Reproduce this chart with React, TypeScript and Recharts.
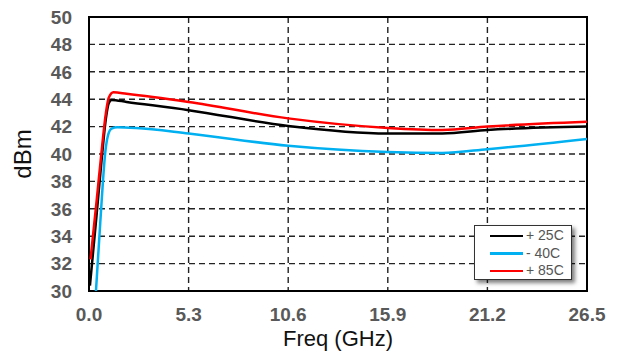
import { LineChart, Line, XAxis, YAxis, CartesianGrid, Legend, ReferenceArea } from "recharts";

// Power vs frequency
const freq25 = [0.05, 0.4, 0.7, 0.9, 1.05, 1.2, 2.0, 5.3, 10.6, 15.9, 18.8, 21.2, 26.5];
const dbm25 = [30.4, 35.5, 40.0, 42.6, 43.7, 43.95, 43.8, 43.2, 42.05, 41.5, 41.5, 41.75, 42.0];

const freqCold = [0.37, 0.6, 0.88, 1.0, 1.2, 1.5, 2.5, 5.3, 10.6, 15.9, 18.8, 21.2, 26.5];
const dbmCold = [30.0, 35.0, 40.3, 41.3, 41.85, 41.95, 41.9, 41.5, 40.6, 40.15, 40.08, 40.35, 41.1];

const freqHot = [0.08, 0.4, 0.7, 0.9, 1.05, 1.3, 2.0, 5.3, 10.6, 15.9, 18.8, 21.2, 26.5];
const dbmHot = [32.3, 36.5, 40.6, 43.0, 44.1, 44.5, 44.4, 43.8, 42.6, 41.9, 41.75, 42.0, 42.35];

const xTicks = [0, 5.3, 10.6, 15.9, 21.2, 26.5];
const yTicks = [30, 32, 34, 36, 38, 40, 42, 44, 46, 48, 50];

// minor tick marks on the frame
const xMinor = Array.from({ length: 26 }, (_, i) => +(i * 1.06).toFixed(2));
const yMinor = Array.from({ length: 51 }, (_, i) => +(30 + i * 0.4).toFixed(1));

const toPoints = (xs: number[], ys: number[]) => xs.map((x, i) => ({ x, y: ys[i] }));

const series = [
  { name: "+ 25C", color: "#000000", data: toPoints(freq25, dbm25) },
  { name: "- 40C", color: "#00B0F0", data: toPoints(freqCold, dbmCold) },
  { name: "+ 85C", color: "#FF0000", data: toPoints(freqHot, dbmHot) },
];

const tickStyle = { fill: "#595959", fontSize: 19, fontWeight: 700 };

// legend keeps the series order (recharts sorts the payload by name)
const LegendBox = () => (
  <div
    style={{
      width: 98,
      height: 55,
      boxSizing: "border-box",
      border: "1px solid #333",
      background: "#fff",
      boxShadow: "3px 3px 4px rgba(0,0,0,0.5)",
      padding: "1px 0 0 15px",
    }}
  >
    {series.map((s) => (
      <div key={s.name} style={{ display: "flex", alignItems: "center", height: 17.5 }}>
        <span style={{ display: "inline-block", width: 33, height: 2.5, background: s.color }} />
        <span style={{ marginLeft: 3, fontSize: 14, color: "#555", lineHeight: "17px" }}>{s.name}</span>
      </div>
    ))}
  </div>
);

// "a" axes only carry the inward minor ticks, "b" axes carry labels and data
export default function App() {
  return (
    <div style={{ position: "absolute", left: 0, top: 0, background: "#fff" }}>
      <LineChart
        width={620}
        height={354}
        margin={{ top: 17, right: 33, bottom: 0, left: 0 }}
        style={{ fontFamily: "Liberation Sans, Arial, sans-serif" }}
      >
        <XAxis
          xAxisId="a"
          dataKey="x"
          type="number"
          domain={[0, 26.5]}
          ticks={xMinor}
          interval={0}
          allowDataOverflow
          mirror
          height={0}
          tickSize={5}
          axisLine={false}
          tickLine={{ stroke: "#000", strokeWidth: 1.2 }}
          tickFormatter={() => ""}
        />
        <YAxis
          yAxisId="a"
          type="number"
          domain={[30, 50]}
          ticks={yMinor}
          interval={0}
          allowDataOverflow
          mirror
          width={0}
          tickSize={4}
          axisLine={false}
          tickLine={{ stroke: "#000", strokeWidth: 1.2 }}
          tickFormatter={() => ""}
        />
        <XAxis
          xAxisId="b"
          dataKey="x"
          type="number"
          domain={[0, 26.5]}
          ticks={xTicks}
          interval={0}
          allowDataOverflow
          tickFormatter={(v: number) => v.toFixed(1)}
          height={63}
          tickSize={6}
          tickMargin={11}
          axisLine={false}
          tickLine={false}
          tick={tickStyle}
          label={{ value: "Freq (GHz)", position: "insideBottom", offset: 8, fill: "#111", fontSize: 22 }}
        />
        <YAxis
          yAxisId="b"
          type="number"
          domain={[30, 50]}
          ticks={yTicks}
          interval={0}
          allowDataOverflow
          width={89}
          tickSize={6}
          tickMargin={11}
          axisLine={false}
          tickLine={false}
          tick={tickStyle}
          label={{
            value: "dBm",
            angle: -90,
            position: "insideLeft",
            offset: 22,
            fill: "#111",
            fontSize: 24,
            style: { textAnchor: "middle" },
          }}
        />
        <CartesianGrid xAxisId="b" yAxisId="b" stroke="#222" strokeWidth={1.4} strokeDasharray="6 4" />
        {series.map((s) => (
          <Line
            key={s.name}
            xAxisId="b"
            yAxisId="b"
            data={s.data}
            dataKey="y"
            name={s.name}
            type="monotone"
            stroke={s.color}
            strokeWidth={2.5}
            dot={false}
            isAnimationActive={false}
          />
        ))}
        <ReferenceArea
          xAxisId="b"
          yAxisId="b"
          x1={0}
          x2={26.5}
          y1={30}
          y2={50}
          fill="none"
          stroke="#000"
          strokeWidth={2}
          ifOverflow="visible"
        />
        <Legend
          content={<LegendBox />}
          verticalAlign="middle"
          align="center"
          wrapperStyle={{ position: "absolute", left: 474, top: 225, width: 98, height: 55 }}
        />
      </LineChart>
    </div>
  );
}
